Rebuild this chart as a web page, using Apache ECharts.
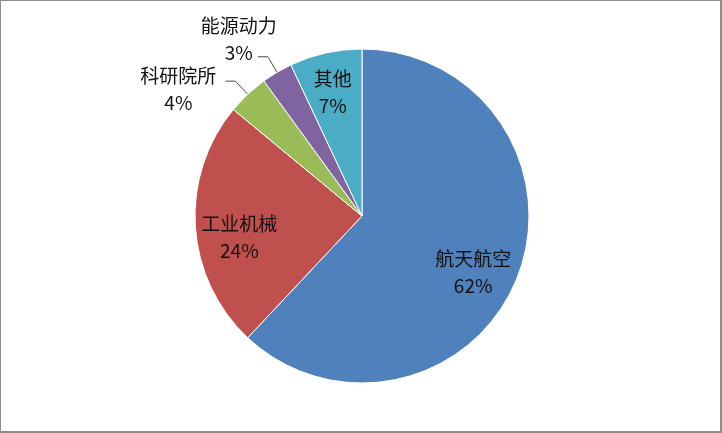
<!DOCTYPE html>
<html><head><meta charset="utf-8">
<script src="https://cdn.jsdelivr.net/npm/echarts@6/dist/echarts.min.js"></script>
<style>
html,body{margin:0;padding:0;background:#fff;}
#c{width:722px;height:433px;box-sizing:border-box;border:1px solid #8c8c8c;border-right:2px solid #8c8c8c;border-bottom:2px solid #8c8c8c;}
</style></head>
<body><div id="c"></div>
<script>
const categories = ['航天航空', '工业机械', '科研院所', '能源动力', '其他'];
const values = [62, 24, 4, 3, 7];
const colors = ['#4F81BD', '#C0504D', '#9BBB59', '#8064A2', '#4BACC6'];
const outsideLabels = ['科研院所', '能源动力'];

// label nudges (layout only)
const labelNudge = {
  '航天航空': [-5, 10], '工业机械': [2, 13], '其他': [-2, -2],
  '科研院所': [0, 8], '能源动力': [28, -17]
};

const chart = echarts.init(document.getElementById('c'));
const R = 167;
const font = '"Noto Sans CJK SC", "Noto Sans", sans-serif';
const labelText = { fontFamily: font, fontSize: 19, color: '#111111', lineHeight: 27 };
function baseData(showFn, transparent) {
  return categories.map((c, i) => ({
    name: c, value: values[i],
    itemStyle: { color: transparent ? 'transparent' : colors[i] },
    label: { show: showFn(c) }
  }));
}
const fmt = p => '{a|' + p.name + '}\n{a|' + p.value + '%}';
const rich = { a: Object.assign({ width: 84, align: 'center' }, labelText) };
const layoutFn = p => {
  const n = labelNudge[categories[p.dataIndex]] || [0, 0];
  const o = { dx: n[0], dy: n[1] };
  if (p.labelLinePoints) o.labelLinePoints = p.labelLinePoints;
  return o;
};

chart.setOption({
  animation: false,
  series: [
    {
      type: 'pie', center: [361, 215], radius: [0, R], startAngle: 90, clockwise: true,
      avoidLabelOverlap: false,
      itemStyle: { borderColor: '#ffffff', borderWidth: 1 },
      data: baseData(c => outsideLabels.includes(c), false),
      label: { position: 'outside', formatter: fmt, rich: rich, distanceToLabelLine: 5 },
      labelLine: { show: true, length: 18, length2: 10, lineStyle: { color: '#4a4a4a', width: 1 } },
      labelLayout: layoutFn,
      silent: true
    },
    {
      type: 'pie', center: [361, 215], radius: [R * 0.46, R], startAngle: 90, clockwise: true,
      avoidLabelOverlap: false,
      itemStyle: { borderWidth: 0 },
      data: baseData(c => !outsideLabels.includes(c), true),
      label: { position: 'inside', formatter: fmt, rich: rich },
      labelLine: { show: false },
      labelLayout: layoutFn,
      silent: true, z: 3
    }
  ]
});
</script></body></html>
